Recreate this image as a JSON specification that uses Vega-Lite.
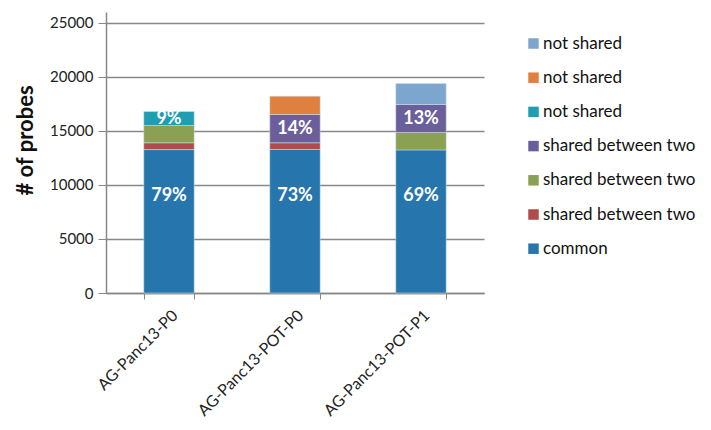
{
  "$schema": "https://vega.github.io/schema/vega-lite/v6.json",
  "width": 378,
  "height": 281,
  "autosize": {"type": "none"},
  "padding": {"left": 106, "top": 12, "right": 227, "bottom": 137},
  "background": "white",
  "config": {
    "font": "Lato",
    "view": {"stroke": null},
    "axis": {"labelFont": "Lato", "titleFont": "Lato", "labelColor": "#222", "titleColor": "#111", "domainColor": "#888", "tickColor": "#888", "gridColor": "#888"}
  },
  "data": {
    "values": [
      {"sample": "AG-Panc13-P0", "series": "s1", "value": 13270, "label": "79%"},
      {"sample": "AG-Panc13-P0", "series": "s2", "value": 630, "label": ""},
      {"sample": "AG-Panc13-P0", "series": "s3", "value": 1600, "label": ""},
      {"sample": "AG-Panc13-P0", "series": "s5", "value": 1290, "label": "9%"},
      {"sample": "AG-Panc13-POT-P0", "series": "s1", "value": 13280, "label": "73%"},
      {"sample": "AG-Panc13-POT-P0", "series": "s2", "value": 620, "label": ""},
      {"sample": "AG-Panc13-POT-P0", "series": "s4", "value": 2620, "label": "14%"},
      {"sample": "AG-Panc13-POT-P0", "series": "s6", "value": 1690, "label": ""},
      {"sample": "AG-Panc13-POT-P1", "series": "s1", "value": 13240, "label": "69%"},
      {"sample": "AG-Panc13-POT-P1", "series": "s3", "value": 1610, "label": ""},
      {"sample": "AG-Panc13-POT-P1", "series": "s4", "value": 2590, "label": "13%"},
      {"sample": "AG-Panc13-POT-P1", "series": "s7", "value": 1940, "label": ""}
    ]
  },
  "encoding": {
    "x": {
      "field": "sample", "type": "nominal", "sort": null,
      "scale": {"paddingInner": 0.6, "paddingOuter": 0.3},
      "axis": {"title": null, "labelAngle": -45, "labelFontSize": 16, "tickBand": "extent", "tickSize": 6, "labelPadding": 8, "domainWidth": 1.5}
    }
  },
  "layer": [
    {
      "mark": {"type": "bar", "stroke": "#cfe0ee", "strokeWidth": 0.5},
      "encoding": {
        "y": {
          "field": "value", "type": "quantitative", "stack": "zero",
          "scale": {"domain": [0, 25000]},
          "axis": {"title": "# of probes", "titleFontSize": 22, "titleFontWeight": "bold", "titlePadding": 12, "titleY": 128, "labelFontSize": 15, "values": [0, 5000, 10000, 15000, 20000, 25000], "format": "d", "tickSize": 8, "labelPadding": 5, "grid": true, "gridWidth": 1.5, "domainWidth": 1.5}
        },
        "color": {
          "field": "series", "type": "nominal",
          "scale": {
            "domain": ["s7", "s6", "s5", "s4", "s3", "s2", "s1"],
            "range": ["#7CA6CE", "#E0803F", "#209DB0", "#6A5F9B", "#8AA053", "#B14A4A", "#2676AD"]
          },
          "legend": {
            "title": null, "orient": "none", "legendX": 419, "legendY": 23, "padding": 0,
            "symbolType": "square", "symbolSize": 110, "symbolStrokeWidth": 0,
            "labelFontSize": 17, "labelColor": "#111", "rowPadding": 16.2, "labelOffset": 1,
            "labelExpr": "datum.value == 's1' ? 'common' : (datum.value == 's2' || datum.value == 's3' || datum.value == 's4') ? 'shared between two' : 'not shared'"
          }
        },
        "order": {"field": "series", "sort": "ascending"}
      }
    },
    {
      "transform": [
        {"stack": "value", "groupby": ["sample"], "sort": [{"field": "series", "order": "ascending"}], "as": ["v0", "v1"]},
        {"filter": "datum.label != '' && datum.series != 's1'"},
        {"fold": ["v0", "v1"], "as": ["edge", "pos"]}
      ],
      "mark": {"type": "text", "color": "white", "fontWeight": "bold", "fontSize": 18, "baseline": "middle"},
      "encoding": {
        "y": {"aggregate": "mean", "field": "pos", "type": "quantitative", "axis": {"title": "# of probes", "titleFontSize": 22, "titleFontWeight": "bold", "titlePadding": 12, "titleY": 128, "labelFontSize": 15, "values": [0, 5000, 10000, 15000, 20000, 25000], "format": "d", "tickSize": 8, "labelPadding": 5, "grid": true, "gridWidth": 1.5, "domainWidth": 1.5}},
        "text": {"field": "label", "type": "nominal"}
      }
    },
    {
      "transform": [
        {"stack": "value", "groupby": ["sample"], "sort": [{"field": "series", "order": "ascending"}], "as": ["v0", "v1"]},
        {"filter": "datum.series == 's1'"},
        {"fold": ["v0", "v1"], "as": ["edge", "pos"]}
      ],
      "mark": {"type": "text", "color": "white", "fontWeight": "bold", "fontSize": 18, "baseline": "middle", "dy": -25},
      "encoding": {
        "y": {"aggregate": "mean", "field": "pos", "type": "quantitative", "axis": {"title": "# of probes", "titleFontSize": 22, "titleFontWeight": "bold", "titlePadding": 12, "titleY": 128, "labelFontSize": 15, "values": [0, 5000, 10000, 15000, 20000, 25000], "format": "d", "tickSize": 8, "labelPadding": 5, "grid": true, "gridWidth": 1.5, "domainWidth": 1.5}},
        "text": {"field": "label", "type": "nominal"}
      }
    }
  ]
}
